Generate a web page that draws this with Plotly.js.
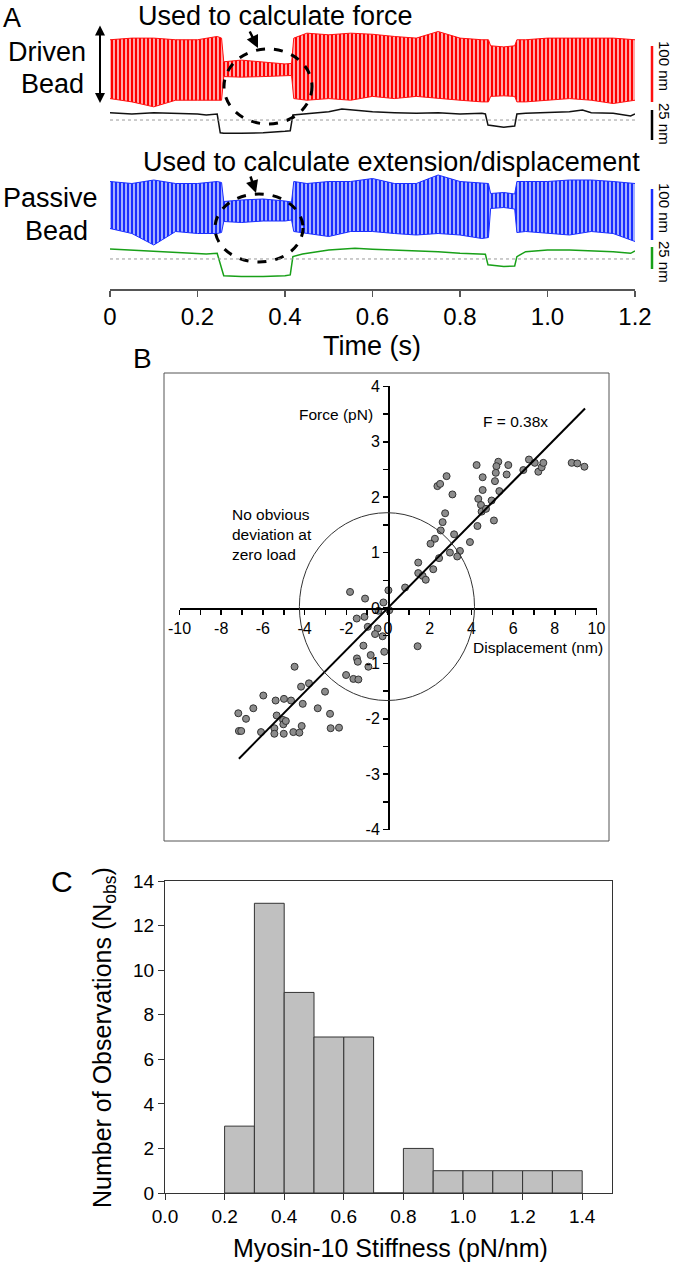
<!DOCTYPE html>
<html>
<head>
<meta charset="utf-8">
<script src="https://cdn.plot.ly/plotly-3.0.1.min.js"></script>
<style>
  html, body { margin: 0; padding: 0; background: #fff; }
  #chart { width: 673px; height: 1270px; }
</style>
</head>
<body>
<div id="chart"></div>
<script>
// ---- Panel A: bead traces (nm). Oscillating signals kept as upper/lower envelopes ----
const envTime = [0, 0.05, 0.1, 0.15, 0.2, 0.245, 0.255, 0.26, 0.3, 0.35, 0.4, 0.415, 0.42, 0.45, 0.5, 0.55,
  0.6, 0.65, 0.7, 0.75, 0.8, 0.85, 0.865, 0.87, 0.9, 0.925, 0.93, 0.95, 1.0, 1.05, 1.1, 1.15, 1.2];
const drivenUpper = [55, 58, 58, 55, 55, 61, 58, 15, 18, 15, 11, 12, 58, 67, 64, 67,
  65, 61, 58, 70, 58, 55, 55, 44, 42, 44, 55, 55, 58, 58, 58, 58, 55];
const drivenLower = [-52, -58, -67, -55, -55, -55, -55, -12, -13, -12, -11, -10, -52, -55, -52, -55,
  -48, -52, -48, -52, -55, -58, -58, -48, -47, -48, -58, -58, -55, -52, -55, -61, -55];
const passiveUpper = [57, 53, 60, 53, 53, 57, 55, 17, 20, 22, 18, 16, 57, 53, 57, 57,
  63, 53, 53, 70, 57, 53, 53, 33, 35, 32, 57, 57, 57, 60, 60, 57, 53];
const passiveLower = [-37, -47, -70, -43, -47, -47, -45, -23, -25, -22, -22, -20, -43, -47, -53, -43,
  -43, -47, -50, -47, -50, -57, -55, 3, 5, 2, -45, -43, -47, -50, -43, -47, -63];

// filtered position signals (nm, relative to the dotted reference line)
const stepTime = [0, 0.05, 0.1, 0.15, 0.2, 0.22, 0.245, 0.252, 0.26, 0.3, 0.35, 0.4, 0.412, 0.418, 0.44,
  0.5, 0.53, 0.56, 0.6, 0.65, 0.7, 0.75, 0.8, 0.85, 0.858, 0.864, 0.9, 0.925, 0.93, 0.95, 1.0, 1.05,
  1.08, 1.1, 1.15, 1.19, 1.2];
const drivenFiltered = [6.1, 5, 6.1, 5.6, 5, 4.2, 5, -10.6, -11.1, -11.1, -10.6, -9.4, -8.9, 4.2, 5,
  6.9, 9.2, 8.3, 6.9, 6.1, 5.6, 6.1, 5, 5.6, 5, -4.2, -6.1, -5, 5, 5.6, 6.1, 6.9,
  8.3, 6.1, 5.6, 3.3, 5];
const passiveFiltered = [11.9, 10.7, 8.7, 7.5, 6.7, 6, 6.7, -7, -20, -21, -21, -20, -19, 2.8, 6,
  10.7, 11.5, 12.7, 11.5, 10.7, 9.5, 8.7, 6.7, 6, 5.6, -7, -9.1, -8.3, 2.8, 8.7, 10.7, 10.7,
  9.9, 9.9, 8.7, 6.7, 9.5];

const timeTicks = [0, 0.2, 0.4, 0.6, 0.8, 1.0, 1.2];
const timeTickText = ['0', '0.2', '0.4', '0.6', '0.8', '1.0', '1.2'];

// ---- Panel B: force vs displacement ----
const displacement = [4.25, 5.29, 5.2, 5.77, 5.17, 4.54, 5.69, 5.13, 4.54, 5.34, 4.33, 4.46, 4.97, 4.49, 4.7,
  5.08, 4.29, 3.93, 6.49, 6.76, 7.04, 7.21, 7.37, 7.45, 8.81, 9.08, 9.42, 2.37, 2.5, 2.81,
  3.09, 2.74, 2.62, 2.53, 3.17, 2.25, 2.04, 2.97, 3.45, 3.32, 2.45, 1.45, 1.45, 1.66, 1.81,
  2.17, 0.82, 0.02, -0.22, -0.46, 0.06, -1.82, -1.1, -1.5, -1.13, -0.97, -0.5, -0.62, -0.26,
  -1.18, -0.18, -0.83, -1.49, -1.45, -0.94, -2.01, -1.66, -1.42, 1.42, -4.48, -4.17, -3.79,
  -3.02, -5.98, -5.39, -4.99, -4.65, -4.09, -3.37, -6.46, -7.18, -6.81, -7.15, -7.04, -6.09,
  -5.45, -5.45, -5.34, -5.03, -5.02, -4.9, -5.0, -4.54, -4.25, -4.14, -2.78, -2.75, -2.35];
const force = [2.58, 2.64, 2.56, 2.58, 2.44, 2.36, 2.41, 2.29, 2.13, 2.11, 1.97, 1.86, 1.94, 1.74, 1.79,
  1.58, 1.48, 1.19, 2.49, 2.68, 2.62, 2.46, 2.54, 2.62, 2.62, 2.61, 2.55, 2.2, 2.24, 2.38,
  2.05, 1.71, 1.55, 1.4, 1.33, 1.25, 1.16, 1.0, 1.03, 0.93, 0.9, 0.82, 0.63, 0.58, 0.51,
  0.7, 0.37, 0.32, 0.1, -0.05, -0.04, 0.29, 0.17, -0.19, -0.16, -0.34, -0.37, -0.47, -0.51,
  -0.68, -0.79, -0.85, -0.91, -0.97, -1.06, -1.21, -1.28, -1.29, -0.69, -1.06, -1.42, -1.36,
  -1.51, -1.58, -1.67, -1.64, -1.67, -1.73, -1.81, -1.81, -1.9, -2.0, -2.22, -2.22, -2.24,
  -2.17, -2.27, -1.94, -2.02, -2.1, -2.04, -2.27, -2.24, -2.25, -2.13, -1.91, -2.17, -2.16];
const fitX = [-7.15, 9.45];
const fitY = [-2.72, 3.6];
const dispTickVals = [-10, -9, -8, -7, -6, -5, -4, -3, -2, -1, 0, 1, 2, 3, 4, 5, 6, 7, 8, 9, 10];
const dispTickText = ['-10', '', '-8', '', '-6', '', '-4', '', '-2', '', '0', '', '2', '', '4', '', '6', '', '8', '', '10'];
const forceTickVals = [-4, -3.5, -3, -2.5, -2, -1.5, -1, -0.5, 0, 0.5, 1, 1.5, 2, 2.5, 3, 3.5, 4];
const forceTickText = ['-4', '', '-3', '', '-2', '', '-1', '', '0', '', '1', '', '2', '', '3', '', '4'];

// ---- Panel C: stiffness histogram ----
const stiffnessBins = [0.25, 0.35, 0.45, 0.55, 0.65, 0.75, 0.85, 0.95, 1.05, 1.15, 1.25, 1.35];
const observations = [3, 13, 9, 7, 7, 0, 2, 1, 1, 1, 1, 1];
const stiffTicks = [0, 0.2, 0.4, 0.6, 0.8, 1.0, 1.2, 1.4];
const stiffTickText = ['0.0', '0.2', '0.4', '0.6', '0.8', '1.0', '1.2', '1.4'];

// page geometry helpers (pixel -> paper)
const W = 673, H = 1270;
const px = x => x / W;
const py = y => 1 - y / H;
const ydom = (top, bottom) => [1 - bottom / H, 1 - top / H];

const FONT = 'Liberation Sans, Arial, Helvetica, sans-serif';

const traces = [
    { x: envTime, y: drivenLower, xaxis: 'x', yaxis: 'y', mode: 'lines', line: { color: '#ff1010', width: 1 } },
    {
        x: envTime, y: drivenUpper, xaxis: 'x', yaxis: 'y', mode: 'lines', line: { color: '#ff1010', width: 1 },
        fill: 'tonexty',
        fillpattern: { shape: '|', size: 4, solidity: 0.55, fgcolor: '#ff0000', bgcolor: 'rgba(255,170,170,0.8)' }
    },
    { x: stepTime, y: drivenFiltered, xaxis: 'x', yaxis: 'y2', mode: 'lines', line: { color: '#111', width: 1.5 } },
    { x: envTime, y: passiveLower, xaxis: 'x', yaxis: 'y3', mode: 'lines', line: { color: '#1a2eff', width: 1 } },
    {
        x: envTime, y: passiveUpper, xaxis: 'x', yaxis: 'y3', mode: 'lines', line: { color: '#1a2eff', width: 1 },
        fill: 'tonexty',
        fillpattern: { shape: '|', size: 4, solidity: 0.55, fgcolor: '#1a2eff', bgcolor: 'rgba(160,175,255,0.8)' }
    },
    { x: stepTime, y: passiveFiltered, xaxis: 'x', yaxis: 'y4', mode: 'lines', line: { color: '#18a018', width: 1.5 } },
    {
        x: displacement, y: force, xaxis: 'x2', yaxis: 'y5', mode: 'markers',
        marker: { size: 7, color: '#8c8c8c', line: { color: '#333', width: 1 } }
    },
    { x: fitX, y: fitY, xaxis: 'x2', yaxis: 'y5', mode: 'lines', line: { color: 'black', width: 2 } },
    {
        x: stiffnessBins, y: observations, xaxis: 'x3', yaxis: 'y6', type: 'bar', width: 0.1,
        marker: { color: '#c0c0c0', line: { color: '#333', width: 1 } }
    }
];

const hiddenY = (top, bottom, range) => ({
    domain: ydom(top, bottom), range: range, anchor: 'x', visible: false, fixedrange: true
});

// paper-referenced text, always centred on the given pixel position
function label(text, x, y, size, extra) {
    return Object.assign({
        text: text, x: px(x), y: py(y), xref: 'paper', yref: 'paper',
        xanchor: 'center', yanchor: 'middle', showarrow: false, font: { size: size }
    }, extra || {});
}

const layout = {
    width: W, height: H,
    margin: { l: 0, r: 0, t: 0, b: 0 },
    paper_bgcolor: 'white', plot_bgcolor: 'rgba(0,0,0,0)',
    showlegend: false,
    font: { family: FONT, color: 'black' },
    xaxis: {
        domain: [px(110), px(635)], range: [0, 1.2], anchor: 'free', position: py(289),
        showline: true, linecolor: '#555', linewidth: 1.5, ticks: 'outside', ticklen: 6,
        tickcolor: '#555', tickwidth: 1.5, tickvals: timeTicks, ticktext: timeTickText,
        tickfont: { size: 24 }, showgrid: false, zeroline: false
    },
    yaxis: hiddenY(27, 117, [-85.5, 78.2]),
    yaxis2: hiddenY(102, 142, [-18.3, 15]),
    yaxis3: hiddenY(170, 250, [-80, 80]),
    yaxis4: hiddenY(240, 285, [-31, 22.6]),
    xaxis2: {
        domain: [px(179.5), px(596.5)], range: [-10, 10], anchor: 'free', position: py(608),
        showline: true, linecolor: 'black', linewidth: 1.5, ticks: 'outside', ticklen: 5,
        tickcolor: 'black', tickwidth: 1.5, tickvals: dispTickVals, ticktext: dispTickText,
        tickfont: { size: 16 }, showgrid: false, zeroline: false
    },
    yaxis5: {
        domain: ydom(386.4, 829.6), range: [-4, 4], anchor: 'free', position: px(388),
        showline: true, linecolor: 'black', linewidth: 1.5, ticks: 'outside', ticklen: 5,
        tickcolor: 'black', tickwidth: 1.5, tickvals: forceTickVals, ticktext: forceTickText,
        tickfont: { size: 16 }, showgrid: false, zeroline: false
    },
    xaxis3: {
        domain: [px(165), px(612)], range: [0, 1.5], anchor: 'y6',
        showline: true, mirror: true, linecolor: '#333', linewidth: 1, ticks: 'outside', ticklen: 6,
        tickcolor: '#333', tickvals: stiffTicks, ticktext: stiffTickText,
        tickfont: { size: 19 }, showgrid: false, zeroline: false
    },
    yaxis6: {
        domain: ydom(881, 1193), range: [0, 14], anchor: 'x3', dtick: 2,
        showline: true, mirror: true, linecolor: '#333', linewidth: 1, ticks: 'outside', ticklen: 6,
        tickcolor: '#333', tickfont: { size: 19 }, showgrid: false, zeroline: false
    },
    shapes: [
        // dashed circles marking the quiet (bound) stretch
        { type: 'circle', xref: 'paper', yref: 'paper', x0: px(224), x1: px(312), y0: py(124), y1: py(49),
          line: { color: 'black', width: 3, dash: 'dash' } },
        { type: 'circle', xref: 'paper', yref: 'paper', x0: px(215), x1: px(303), y0: py(262), y1: py(194),
          line: { color: 'black', width: 3, dash: 'dash' } },
        // dotted reference lines
        { type: 'line', xref: 'x', yref: 'y2', x0: 0, x1: 1.2, y0: 0, y1: 0,
          line: { color: '#999', width: 1, dash: 'dot' } },
        { type: 'line', xref: 'x', yref: 'y4', x0: 0, x1: 1.2, y0: 0, y1: 0,
          line: { color: '#999', width: 1, dash: 'dot' } },
        // scale bars
        { type: 'line', xref: 'paper', yref: 'paper', x0: px(652), x1: px(652), y0: py(46), y1: py(102),
          line: { color: '#ff1010', width: 2.5 } },
        { type: 'line', xref: 'paper', yref: 'paper', x0: px(652), x1: px(652), y0: py(110), y1: py(140),
          line: { color: 'black', width: 2.5 } },
        { type: 'line', xref: 'paper', yref: 'paper', x0: px(652), x1: px(652), y0: py(189), y1: py(240),
          line: { color: '#1a2eff', width: 2.5 } },
        { type: 'line', xref: 'paper', yref: 'paper', x0: px(652), x1: px(652), y0: py(247), y1: py(269),
          line: { color: '#18a018', width: 2.5 } },
        // panel B frame and zero-load circle
        { type: 'rect', xref: 'paper', yref: 'paper', x0: px(164), x1: px(609), y0: py(841), y1: py(373),
          line: { color: '#555', width: 1 } },
        { type: 'circle', xref: 'x2', yref: 'y5', x0: -4.25, x1: 4.15, y0: -1.67, y1: 1.72,
          line: { color: '#333', width: 1 } }
    ],
    annotations: [
        label('A', 12, 18, 27),
        label('B', 142, 358, 28),
        label('C', 62, 881, 30),
        label('Used to calculate force', 275, 16, 27),
        label('Used to calculate extension/displacement', 391, 162, 27),
        label('Driven', 47, 52, 27),
        label('Bead', 52, 84, 27),
        label('Passive', 50, 198, 27),
        label('Bead', 56, 231, 27),
        label('Time (s)', 372, 346, 27),
        // pointer arrows
        { text: '', x: px(258), y: py(48), xref: 'paper', yref: 'paper', ax: -9, ay: -18,
          showarrow: true, arrowhead: 2, arrowsize: 1, arrowwidth: 2.5, arrowcolor: 'black' },
        { text: '', x: px(256), y: py(193), xref: 'paper', yref: 'paper', ax: -6, ay: -18,
          showarrow: true, arrowhead: 2, arrowsize: 1, arrowwidth: 2.5, arrowcolor: 'black' },
        { text: '', x: px(100), y: py(103), xref: 'paper', yref: 'paper', ax: 0, ay: -79,
          showarrow: true, arrowhead: 2, startarrowhead: 2, arrowside: 'end+start', arrowsize: 1,
          arrowwidth: 2, arrowcolor: 'black' },
        // scale bar labels (read top to bottom)
        label('100 nm', 665, 66, 15, { textangle: 90 }),
        label('25 nm', 665, 124, 15, { textangle: 90 }),
        label('100 nm', 665, 208, 15, { textangle: 90 }),
        label('25 nm', 665, 262, 15, { textangle: 90 }),
        // panel B labels
        label('Force (pN)', 375, 415, 15.5, { xanchor: 'right' }),
        label('F = 0.38x', 515, 421, 15.5),
        label('Displacement (nm)', 538, 647, 15.5),
        label('No obvious<br>deviation at<br>zero load', 230, 535, 15.5, { xanchor: 'left', align: 'left' }),
        // panel C titles
        label('Number of Observations (N<sub>obs</sub>)', 104, 1038, 25, { textangle: -90 }),
        label('Myosin-10 Stiffness (pN/nm)', 390, 1248, 25)
    ]
};

Plotly.newPlot('chart', traces, layout, { staticPlot: true, displayModeBar: false });
</script>
</body>
</html>
